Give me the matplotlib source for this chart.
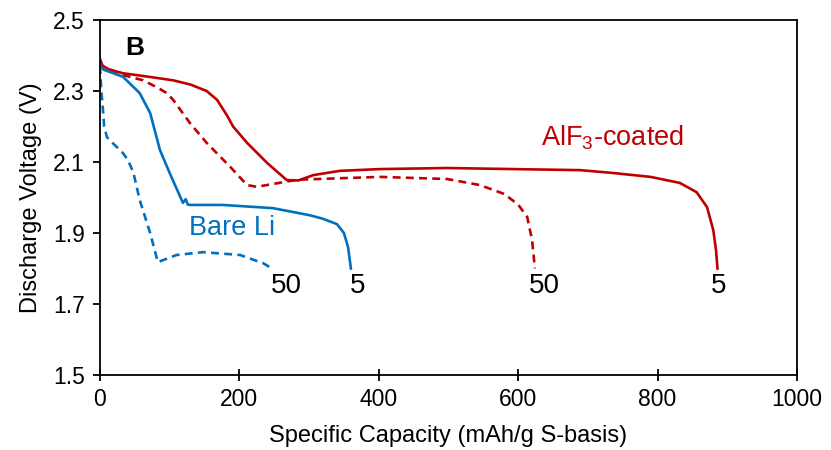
import matplotlib
matplotlib.use("Agg")
import matplotlib.pyplot as plt

plt.rcParams['font.family'] = ['Liberation Sans', 'DejaVu Sans']
plt.rcParams['mathtext.fontset'] = 'custom'
plt.rcParams['mathtext.rm'] = 'Liberation Sans'

# AlF3-coated, cycle 5
alf_5_cap = [0, 4, 14, 33, 70, 105, 130, 153, 168, 182, 191, 211, 240, 268, 285, 306, 344, 402, 498, 593, 689, 736, 790, 832, 856, 871, 880, 884, 886]
alf_5_v = [2.39, 2.37, 2.36, 2.35, 2.34, 2.33, 2.318, 2.30, 2.275, 2.232, 2.20, 2.154, 2.097, 2.049, 2.048, 2.063, 2.075, 2.08, 2.083, 2.08, 2.077, 2.069, 2.058, 2.041, 2.015, 1.973, 1.908, 1.85, 1.80]

# AlF3-coated, cycle 50
alf_50_cap = [0, 4, 33, 62, 82, 96, 105, 129, 153, 187, 211, 225, 254, 283, 402, 498, 545, 580, 600, 613, 620, 624]
alf_50_v = [2.38, 2.37, 2.345, 2.33, 2.31, 2.294, 2.275, 2.21, 2.154, 2.086, 2.035, 2.03, 2.04, 2.05, 2.058, 2.052, 2.035, 2.01, 1.98, 1.945, 1.88, 1.80]

# Bare Li, cycle 5
bare_5_cap = [0, 5, 33, 57, 72, 86, 100, 119, 123, 126, 129, 176, 248, 301, 320, 340, 350, 356, 360]
bare_5_v = [2.373, 2.36, 2.34, 2.294, 2.238, 2.134, 2.069, 1.985, 1.995, 1.98, 1.979, 1.979, 1.97, 1.95, 1.94, 1.925, 1.90, 1.86, 1.80]

# Bare Li, cycle 50
bare_50_cap = [0, 2, 4, 6, 10, 20, 33, 40, 48, 57, 72, 83, 110, 148, 201, 234, 247]
bare_50_v = [2.37, 2.30, 2.255, 2.20, 2.17, 2.15, 2.125, 2.106, 2.07, 1.993, 1.90, 1.818, 1.838, 1.846, 1.838, 1.815, 1.80]

red = '#C00000'
blue = '#0070C0'

fig = plt.figure(figsize=(8.31, 4.5), dpi=100)
ax = fig.add_axes([0.1203, 0.1667, 0.8387, 0.7889])

ax.plot(alf_5_cap, alf_5_v, color=red, lw=1.9)
ax.plot(alf_50_cap, alf_50_v, color=red, lw=1.9, linestyle=(0, (3, 2)))
ax.plot(bare_5_cap, bare_5_v, color=blue, lw=1.9)
ax.plot(bare_50_cap, bare_50_v, color=blue, lw=1.9, linestyle=(0, (3, 2)))

ax.set_xlim(0, 1000)
ax.set_ylim(1.5, 2.5)
ax.set_xticks([0, 200, 400, 600, 800, 1000])
ax.set_yticks([1.5, 1.7, 1.9, 2.1, 2.3, 2.5])
ax.set_yticklabels(['1.5', '1.7', '1.9', '2.1', '2.3', '2.5'])
ax.tick_params(axis='both', labelsize=16.5, direction='out', length=5, width=1.3, pad=6)
ax.tick_params(axis='x', direction='inout', length=9, pad=5)
for s in ax.spines.values():
    s.set_linewidth(1.3)

ax.set_xlabel('Specific Capacity (mAh/g S-basis)', fontsize=17, labelpad=10)
ax.set_ylabel('Discharge Voltage (V)', fontsize=17, labelpad=8)

ax.text(50, 2.42, 'B', fontsize=19, fontweight='bold', ha='center', va='center')
ax.text(735, 2.168, r'AlF$_3$-coated', fontsize=19.5, color=red, ha='center', va='center')
ax.text(189, 1.914, 'Bare Li', fontsize=19.5, color=blue, ha='center', va='center')
for x, lab in [(268, '50'), (370, '5'), (638, '50'), (887, '5')]:
    ax.text(x, 1.752, lab, fontsize=20, ha='center', va='center')

fig.savefig('out.png', dpi=100)
